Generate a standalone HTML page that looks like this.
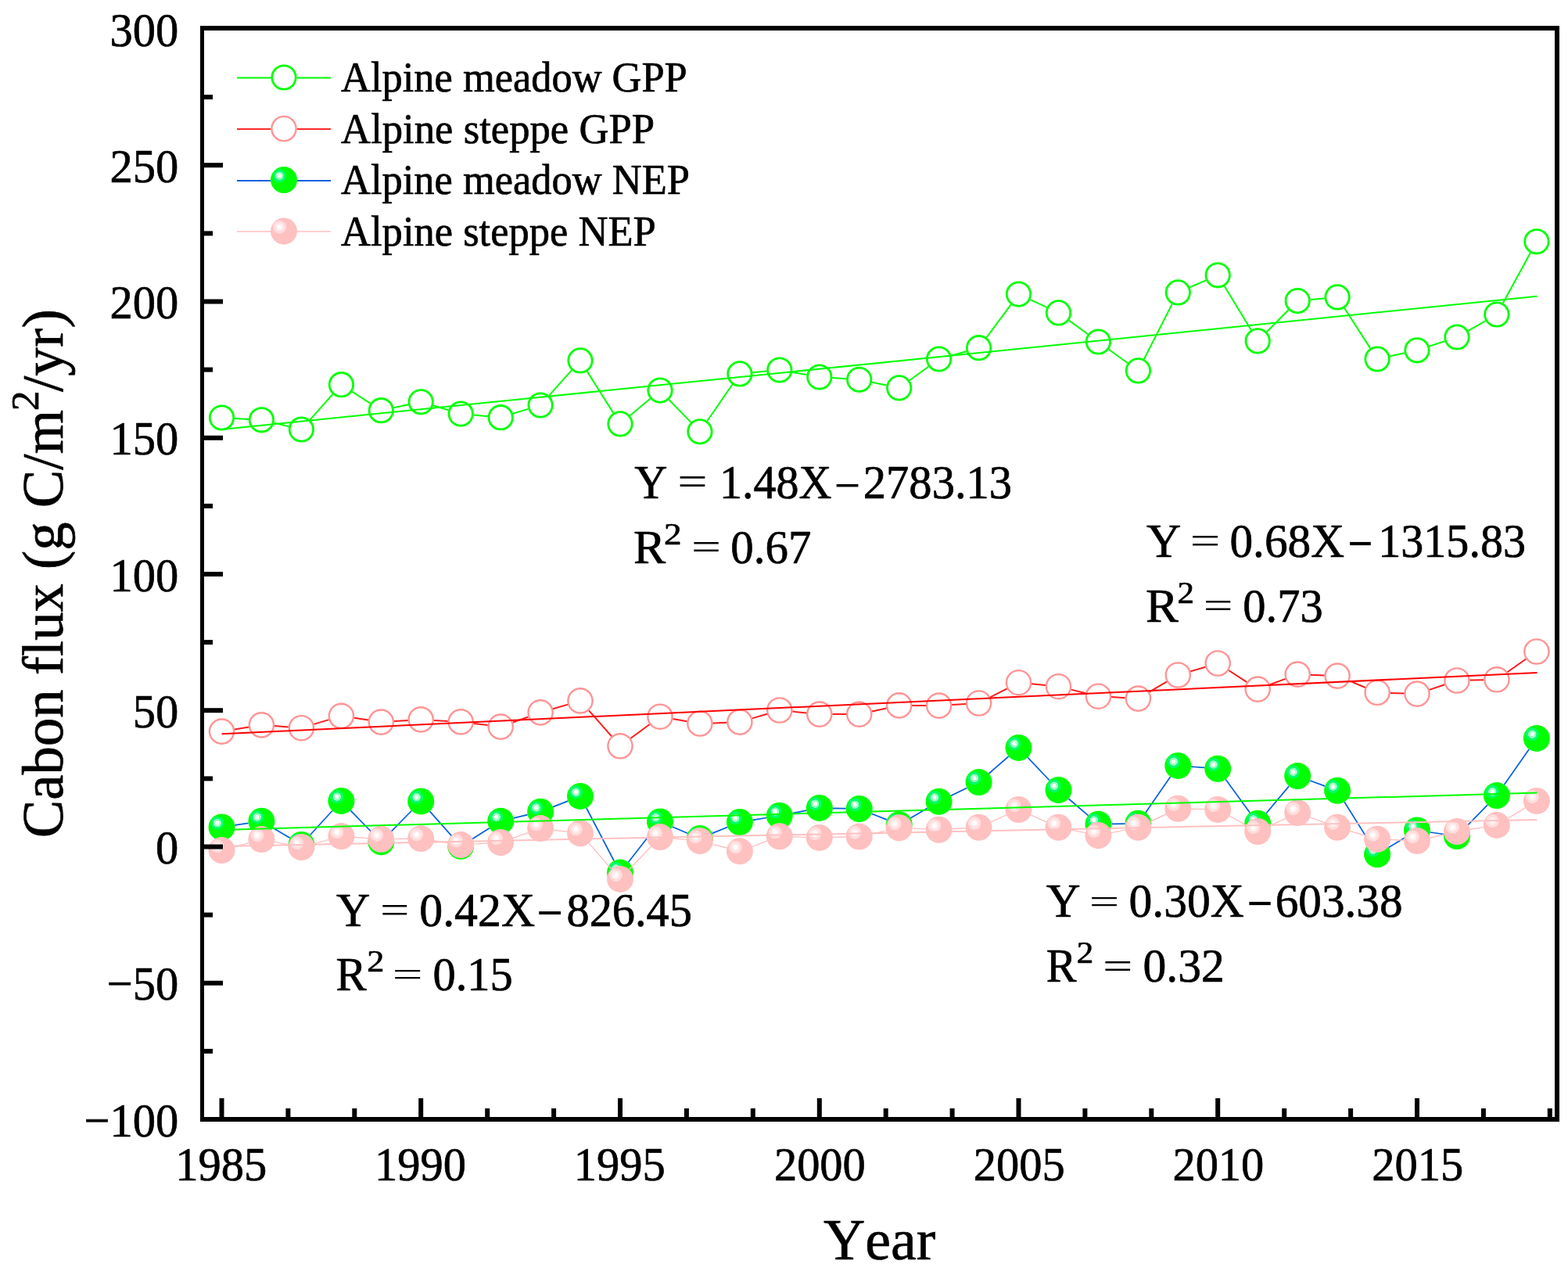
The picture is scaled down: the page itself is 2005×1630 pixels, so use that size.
<!DOCTYPE html>
<html><head><meta charset="utf-8"><title>Cabon flux</title>
<style>
html,body{margin:0;padding:0;background:#fff;}
svg{display:block;}
text{font-family:"Liberation Serif","Times New Roman",serif;fill:#000;font-kerning:none;font-feature-settings:"kern" 0;stroke:#000;stroke-width:0.7px;stroke-linejoin:round;}
.tl{font-size:58px;}
.lg{font-size:53px;}
.eq{font-size:58px;}
.ti{font-size:74px;}
</style></head><body>
<svg width="2005" height="1630" viewBox="0 0 2005 1630">
<defs>
<radialGradient id="sg" cx="0.335" cy="0.345" r="0.5" fx="0.335" fy="0.345">
<stop offset="0" stop-color="#ffffff"/><stop offset="0.14" stop-color="#ffffff"/>
<stop offset="0.165" stop-color="#9dffc0"/><stop offset="0.29" stop-color="#9dffc0"/>
<stop offset="0.315" stop-color="#00ff6a"/><stop offset="0.48" stop-color="#00ff6a"/>
<stop offset="0.505" stop-color="#00ff00"/><stop offset="1" stop-color="#00ff00"/>
</radialGradient>
<radialGradient id="sp" cx="0.335" cy="0.345" r="0.5" fx="0.335" fy="0.345">
<stop offset="0" stop-color="#ffffff"/><stop offset="0.14" stop-color="#ffffff"/>
<stop offset="0.165" stop-color="#ffeeee"/><stop offset="0.29" stop-color="#ffeeee"/>
<stop offset="0.315" stop-color="#ffdcdc"/><stop offset="0.48" stop-color="#ffdcdc"/>
<stop offset="0.505" stop-color="#ffc0c0"/><stop offset="1" stop-color="#ffc0c0"/>
</radialGradient>
</defs>
<rect width="2005" height="1630" fill="#fff"/>

<g>
<text font-size="60.50" transform="matrix(0.9670 0 0 1.0000 107.48 1452.60)">−100</text>
<text font-size="60.50" transform="matrix(0.9670 0 0 1.0000 136.73 1278.35)">−50</text>
<text font-size="60.50" transform="matrix(0.9670 0 0 1.0000 198.98 1104.10)">0</text>
<text font-size="60.50" transform="matrix(0.9670 0 0 1.0000 169.72 929.85)">50</text>
<text font-size="60.50" transform="matrix(0.9670 0 0 1.0000 140.47 755.60)">100</text>
<text font-size="60.50" transform="matrix(0.9670 0 0 1.0000 140.47 581.35)">150</text>
<text font-size="60.50" transform="matrix(0.9670 0 0 1.0000 140.47 407.10)">200</text>
<text font-size="60.50" transform="matrix(0.9670 0 0 1.0000 140.47 232.85)">250</text>
<text font-size="60.50" transform="matrix(0.9670 0 0 1.0000 140.47 58.60)">300</text>
<text font-size="60.50" transform="matrix(0.9670 0 0 1.0000 224.37 1509.30)">1985</text>
<text font-size="60.50" transform="matrix(0.9670 0 0 1.0000 479.09 1509.30)">1990</text>
<text font-size="60.50" transform="matrix(0.9670 0 0 1.0000 733.87 1509.30)">1995</text>
<text font-size="60.50" transform="matrix(0.9670 0 0 1.0000 989.88 1509.30)">2000</text>
<text font-size="60.50" transform="matrix(0.9670 0 0 1.0000 1244.65 1509.30)">2005</text>
<text font-size="60.50" transform="matrix(0.9670 0 0 1.0000 1499.38 1509.30)">2010</text>
<text font-size="60.50" transform="matrix(0.9670 0 0 1.0000 1754.15 1509.30)">2015</text>
</g>
<text font-size="73.30" transform="matrix(1.0061 0 0 1.0000 1053.07 1609.80)">Year</text>
<text font-size="74.60" transform="matrix(0 -0.9747 1.0000 0 80.00 1071.18)">Cabon flux (g C/m</text>
<text font-size="49.24" transform="matrix(0 -1.0488 1.0153 0 49.30 525.17)">2</text>
<text font-size="74.60" transform="matrix(0 -0.9825 1.0000 0 80.00 501.00)">/yr)</text>
<g fill="none" stroke-linecap="butt">
<path d="M300.0 534.9L318.0 535.9M350.5 540.6L369.4 545.2M396.4 536.7L425.4 504.0M450.2 500.7L473.5 515.7M503.4 521.2L522.1 517.3M554.1 518.5L573.4 524.3M605.6 530.5L623.7 532.2M655.9 528.8L675.3 522.9M702.1 505.7L731.1 473.2M750.8 474.9L784.2 527.9M805.6 531.3L831.3 509.7M855.4 511.0L883.4 539.9M904.3 538.2L936.5 491.5M962.3 476.3L980.4 474.6M1013.0 475.9L1031.5 479.1M1064.2 483.1L1082.2 484.2M1114.9 488.7L1133.5 492.5M1163.0 486.2L1187.2 468.7M1216.5 454.5L1235.7 449.2M1261.4 431.5L1292.7 389.3M1317.4 383.1L1338.5 392.9M1366.8 409.6L1391.1 427.3M1417.8 446.7L1442.0 464.2M1462.8 459.2L1498.8 388.6M1521.4 367.3L1542.1 358.4M1565.8 365.9L1599.7 421.8M1619.8 424.2L1647.5 396.3M1675.6 383.1L1693.7 381.4M1719.0 393.8L1752.1 445.1M1777.2 455.5L1795.9 451.3M1827.7 442.6L1847.3 436.2M1877.3 422.8L1899.6 410.2M1921.8 387.5L1956.9 323.3" stroke="#00ff00" stroke-width="2"/>
<circle fill="none" stroke="#00ff00" stroke-width="2.8" cx="283.5" cy="534.0" r="15.2"/><circle fill="none" stroke="#00ff00" stroke-width="2.8" cx="334.4" cy="536.8" r="15.2"/><circle fill="none" stroke="#00ff00" stroke-width="2.8" cx="385.4" cy="549.0" r="15.2"/><circle fill="none" stroke="#00ff00" stroke-width="2.8" cx="436.4" cy="491.7" r="15.2"/><circle fill="none" stroke="#00ff00" stroke-width="2.8" cx="487.3" cy="524.7" r="15.2"/><circle fill="none" stroke="#00ff00" stroke-width="2.8" cx="538.2" cy="513.8" r="15.2"/><circle fill="none" stroke="#00ff00" stroke-width="2.8" cx="589.2" cy="529.0" r="15.2"/><circle fill="none" stroke="#00ff00" stroke-width="2.8" cx="640.2" cy="533.7" r="15.2"/><circle fill="none" stroke="#00ff00" stroke-width="2.8" cx="691.1" cy="518.0" r="15.2"/><circle fill="none" stroke="#00ff00" stroke-width="2.8" cx="742.0" cy="460.9" r="15.2"/><circle fill="none" stroke="#00ff00" stroke-width="2.8" cx="793.0" cy="541.9" r="15.2"/><circle fill="none" stroke="#00ff00" stroke-width="2.8" cx="844.0" cy="499.1" r="15.2"/><circle fill="none" stroke="#00ff00" stroke-width="2.8" cx="894.9" cy="551.8" r="15.2"/><circle fill="none" stroke="#00ff00" stroke-width="2.8" cx="945.9" cy="477.9" r="15.2"/><circle fill="none" stroke="#00ff00" stroke-width="2.8" cx="996.8" cy="473.0" r="15.2"/><circle fill="none" stroke="#00ff00" stroke-width="2.8" cx="1047.8" cy="482.0" r="15.2"/><circle fill="none" stroke="#00ff00" stroke-width="2.8" cx="1098.7" cy="485.3" r="15.2"/><circle fill="none" stroke="#00ff00" stroke-width="2.8" cx="1149.7" cy="495.9" r="15.2"/><circle fill="none" stroke="#00ff00" stroke-width="2.8" cx="1200.6" cy="459.0" r="15.2"/><circle fill="none" stroke="#00ff00" stroke-width="2.8" cx="1251.6" cy="444.7" r="15.2"/><circle fill="none" stroke="#00ff00" stroke-width="2.8" cx="1302.5" cy="376.1" r="15.2"/><circle fill="none" stroke="#00ff00" stroke-width="2.8" cx="1353.5" cy="399.9" r="15.2"/><circle fill="none" stroke="#00ff00" stroke-width="2.8" cx="1404.4" cy="437.0" r="15.2"/><circle fill="none" stroke="#00ff00" stroke-width="2.8" cx="1455.4" cy="473.9" r="15.2"/><circle fill="none" stroke="#00ff00" stroke-width="2.8" cx="1506.3" cy="373.9" r="15.2"/><circle fill="none" stroke="#00ff00" stroke-width="2.8" cx="1557.2" cy="351.8" r="15.2"/><circle fill="none" stroke="#00ff00" stroke-width="2.8" cx="1608.2" cy="435.9" r="15.2"/><circle fill="none" stroke="#00ff00" stroke-width="2.8" cx="1659.2" cy="384.6" r="15.2"/><circle fill="none" stroke="#00ff00" stroke-width="2.8" cx="1710.1" cy="379.9" r="15.2"/><circle fill="none" stroke="#00ff00" stroke-width="2.8" cx="1761.1" cy="459.0" r="15.2"/><circle fill="none" stroke="#00ff00" stroke-width="2.8" cx="1812.0" cy="447.8" r="15.2"/><circle fill="none" stroke="#00ff00" stroke-width="2.8" cx="1863.0" cy="431.0" r="15.2"/><circle fill="none" stroke="#00ff00" stroke-width="2.8" cx="1913.9" cy="402.0" r="15.2"/><circle fill="none" stroke="#00ff00" stroke-width="2.8" cx="1964.9" cy="308.8" r="15.2"/>
<path d="M299.8 932.5L318.2 929.5M350.9 928.1L368.9 929.5M401.2 925.9L420.6 920.1M452.7 917.8L471.0 920.6M503.8 922.1L521.8 920.9M554.7 920.9L572.7 921.9M605.6 924.9L623.8 927.1M655.7 923.5L675.6 916.5M706.9 906.2L726.2 900.6M753.0 908.3L782.1 941.4M806.3 944.0L830.7 926.0M860.2 919.0L878.6 922.2M911.4 924.4L929.4 923.7M961.7 918.4L981.0 912.7M1013.2 909.6L1031.3 911.5M1064.2 913.1L1082.2 913.1M1114.8 909.6L1133.5 905.4M1166.1 902.0L1184.1 902.0M1217.1 901.1L1235.1 900.0M1266.2 891.4L1287.8 880.3M1318.9 874.3L1337.0 876.1M1369.5 881.6L1388.4 886.3M1420.9 891.1L1438.9 892.2M1469.6 884.7L1492.1 871.4M1522.1 858.3L1541.4 852.7M1571.1 857.0L1594.4 872.1M1623.7 875.3L1643.7 867.9M1675.6 862.7L1693.6 863.5M1725.3 870.4L1745.8 879.0M1777.5 885.9L1795.5 886.5M1827.6 881.9L1847.3 875.2M1879.4 869.6L1897.4 869.2M1927.4 859.3L1951.3 842.5" stroke="#ff1a1a" stroke-width="2"/>
<circle fill="none" stroke="#ff9494" stroke-width="2.4" cx="283.5" cy="935.1" r="15.6"/><circle fill="none" stroke="#ff9494" stroke-width="2.4" cx="334.4" cy="926.9" r="15.6"/><circle fill="none" stroke="#ff9494" stroke-width="2.4" cx="385.4" cy="930.7" r="15.6"/><circle fill="none" stroke="#ff9494" stroke-width="2.4" cx="436.4" cy="915.3" r="15.6"/><circle fill="none" stroke="#ff9494" stroke-width="2.4" cx="487.3" cy="923.1" r="15.6"/><circle fill="none" stroke="#ff9494" stroke-width="2.4" cx="538.2" cy="919.9" r="15.6"/><circle fill="none" stroke="#ff9494" stroke-width="2.4" cx="589.2" cy="922.9" r="15.6"/><circle fill="none" stroke="#ff9494" stroke-width="2.4" cx="640.2" cy="929.1" r="15.6"/><circle fill="none" stroke="#ff9494" stroke-width="2.4" cx="691.1" cy="910.9" r="15.6"/><circle fill="none" stroke="#ff9494" stroke-width="2.4" cx="742.0" cy="895.9" r="15.6"/><circle fill="none" stroke="#ff9494" stroke-width="2.4" cx="793.0" cy="953.8" r="15.6"/><circle fill="none" stroke="#ff9494" stroke-width="2.4" cx="844.0" cy="916.2" r="15.6"/><circle fill="none" stroke="#ff9494" stroke-width="2.4" cx="894.9" cy="925.0" r="15.6"/><circle fill="none" stroke="#ff9494" stroke-width="2.4" cx="945.9" cy="923.1" r="15.6"/><circle fill="none" stroke="#ff9494" stroke-width="2.4" cx="996.8" cy="908.0" r="15.6"/><circle fill="none" stroke="#ff9494" stroke-width="2.4" cx="1047.8" cy="913.1" r="15.6"/><circle fill="none" stroke="#ff9494" stroke-width="2.4" cx="1098.7" cy="913.1" r="15.6"/><circle fill="none" stroke="#ff9494" stroke-width="2.4" cx="1149.7" cy="901.9" r="15.6"/><circle fill="none" stroke="#ff9494" stroke-width="2.4" cx="1200.6" cy="902.1" r="15.6"/><circle fill="none" stroke="#ff9494" stroke-width="2.4" cx="1251.6" cy="899.0" r="15.6"/><circle fill="none" stroke="#ff9494" stroke-width="2.4" cx="1302.5" cy="872.7" r="15.6"/><circle fill="none" stroke="#ff9494" stroke-width="2.4" cx="1353.5" cy="877.7" r="15.6"/><circle fill="none" stroke="#ff9494" stroke-width="2.4" cx="1404.4" cy="890.2" r="15.6"/><circle fill="none" stroke="#ff9494" stroke-width="2.4" cx="1455.4" cy="893.1" r="15.6"/><circle fill="none" stroke="#ff9494" stroke-width="2.4" cx="1506.3" cy="863.0" r="15.6"/><circle fill="none" stroke="#ff9494" stroke-width="2.4" cx="1557.2" cy="848.0" r="15.6"/><circle fill="none" stroke="#ff9494" stroke-width="2.4" cx="1608.2" cy="881.1" r="15.6"/><circle fill="none" stroke="#ff9494" stroke-width="2.4" cx="1659.2" cy="862.1" r="15.6"/><circle fill="none" stroke="#ff9494" stroke-width="2.4" cx="1710.1" cy="864.1" r="15.6"/><circle fill="none" stroke="#ff9494" stroke-width="2.4" cx="1761.1" cy="885.3" r="15.6"/><circle fill="none" stroke="#ff9494" stroke-width="2.4" cx="1812.0" cy="887.1" r="15.6"/><circle fill="none" stroke="#ff9494" stroke-width="2.4" cx="1863.0" cy="870.0" r="15.6"/><circle fill="none" stroke="#ff9494" stroke-width="2.4" cx="1913.9" cy="868.8" r="15.6"/><circle fill="none" stroke="#ff9494" stroke-width="2.4" cx="1964.9" cy="833.0" r="15.6"/>
<path d="M300.3 1054.9L317.6 1052.3M349.1 1058.4L370.8 1071.3M396.8 1067.3L424.9 1036.5M448.2 1036.1L475.4 1064.0M499.2 1064.1L526.3 1036.5M549.5 1037.1L577.9 1069.1M603.6 1072.8L625.8 1058.8M656.7 1045.9L674.6 1041.7M706.9 1031.6L726.2 1024.1M749.9 1033.0L785.1 1100.5M803.5 1102.2L833.5 1063.8M859.6 1057.0L879.2 1065.3M910.6 1065.4L930.1 1057.5M962.6 1048.3L980.0 1045.5M1013.5 1039.6L1031.1 1036.1M1064.7 1033.3L1081.7 1033.6M1114.5 1040.3L1133.8 1047.9M1164.4 1045.7L1185.9 1033.2M1215.9 1017.3L1236.2 1007.5M1264.4 989.0L1289.7 967.0M1314.2 968.3L1341.8 997.5M1366.3 1021.0L1391.5 1042.7M1421.4 1053.4L1438.4 1053.1M1465.0 1038.7L1496.6 992.9M1523.3 980.2L1540.3 981.4M1567.3 996.4L1598.2 1039.0M1619.1 1039.7L1648.2 1005.1M1675.1 998.0L1694.1 1004.9M1719.1 1025.2L1752.0 1077.9M1775.6 1083.5L1797.5 1070.3M1828.8 1064.0L1846.1 1066.5M1874.9 1056.9L1902.0 1029.2M1923.6 1003.1L1955.1 957.9" stroke="#0060e0" stroke-width="1.7"/>
<circle fill="url(#sg)" cx="283.5" cy="1057.4" r="17"/><circle fill="url(#sg)" cx="334.4" cy="1049.8" r="17"/><circle fill="url(#sg)" cx="385.4" cy="1079.9" r="17"/><circle fill="url(#sg)" cx="436.4" cy="1023.9" r="17"/><circle fill="url(#sg)" cx="487.3" cy="1076.2" r="17"/><circle fill="url(#sg)" cx="538.2" cy="1024.4" r="17"/><circle fill="url(#sg)" cx="589.2" cy="1081.8" r="17"/><circle fill="url(#sg)" cx="640.2" cy="1049.8" r="17"/><circle fill="url(#sg)" cx="691.1" cy="1037.8" r="17"/><circle fill="url(#sg)" cx="742.0" cy="1017.9" r="17"/><circle fill="url(#sg)" cx="793.0" cy="1115.6" r="17"/><circle fill="url(#sg)" cx="844.0" cy="1050.4" r="17"/><circle fill="url(#sg)" cx="894.9" cy="1071.9" r="17"/><circle fill="url(#sg)" cx="945.9" cy="1051.0" r="17"/><circle fill="url(#sg)" cx="996.8" cy="1042.8" r="17"/><circle fill="url(#sg)" cx="1047.8" cy="1032.9" r="17"/><circle fill="url(#sg)" cx="1098.7" cy="1034.0" r="17"/><circle fill="url(#sg)" cx="1149.7" cy="1054.2" r="17"/><circle fill="url(#sg)" cx="1200.6" cy="1024.7" r="17"/><circle fill="url(#sg)" cx="1251.6" cy="1000.1" r="17"/><circle fill="url(#sg)" cx="1302.5" cy="955.9" r="17"/><circle fill="url(#sg)" cx="1353.5" cy="1009.9" r="17"/><circle fill="url(#sg)" cx="1404.4" cy="1053.8" r="17"/><circle fill="url(#sg)" cx="1455.4" cy="1052.7" r="17"/><circle fill="url(#sg)" cx="1506.3" cy="978.9" r="17"/><circle fill="url(#sg)" cx="1557.2" cy="982.7" r="17"/><circle fill="url(#sg)" cx="1608.2" cy="1052.7" r="17"/><circle fill="url(#sg)" cx="1659.2" cy="992.1" r="17"/><circle fill="url(#sg)" cx="1710.1" cy="1010.8" r="17"/><circle fill="url(#sg)" cx="1761.1" cy="1092.3" r="17"/><circle fill="url(#sg)" cx="1812.0" cy="1061.5" r="17"/><circle fill="url(#sg)" cx="1863.0" cy="1069.0" r="17"/><circle fill="url(#sg)" cx="1913.9" cy="1017.1" r="17"/><circle fill="url(#sg)" cx="1964.9" cy="943.9" r="17"/>
<path d="M299.9 1082.6L318.1 1077.6M351.1 1076.4L368.7 1079.8M401.8 1078.6L420.0 1073.6M453.3 1070.3L470.3 1071.6M504.3 1072.6L521.3 1072.3M555.0 1074.7L572.4 1077.5M606.2 1079.1L623.2 1078.0M656.2 1071.4L675.1 1064.7M708.0 1061.2L725.2 1063.2M753.2 1078.1L781.8 1111.1M804.7 1111.6L832.3 1082.4M860.9 1071.8L878.0 1073.4M911.4 1079.4L929.4 1084.0M961.8 1082.4L980.9 1075.2M1013.8 1069.8L1030.8 1070.4M1064.7 1070.5L1081.7 1070.0M1115.3 1065.9L1133.1 1061.9M1166.6 1059.1L1183.6 1059.9M1217.6 1059.8L1234.6 1058.7M1267.1 1050.8L1287.0 1041.9M1318.0 1041.9L1337.9 1050.8M1370.1 1061.1L1387.7 1064.6M1421.1 1064.6L1438.7 1061.1M1470.7 1050.5L1490.9 1041.0M1523.3 1034.2L1540.3 1034.5M1572.1 1043.1L1593.3 1054.8M1623.6 1055.8L1643.8 1046.3M1675.1 1044.9L1694.1 1051.9M1726.4 1062.5L1744.7 1067.9M1778.0 1073.5L1795.0 1074.3M1828.5 1071.2L1846.4 1066.9M1879.7 1060.3L1897.1 1057.6M1928.4 1046.1L1950.3 1032.7" stroke="#ffc0c0" stroke-width="1.4"/>
<circle fill="url(#sp)" cx="283.5" cy="1087.1" r="17"/><circle fill="url(#sp)" cx="334.4" cy="1073.1" r="17"/><circle fill="url(#sp)" cx="385.4" cy="1083.1" r="17"/><circle fill="url(#sp)" cx="436.4" cy="1069.1" r="17"/><circle fill="url(#sp)" cx="487.3" cy="1072.8" r="17"/><circle fill="url(#sp)" cx="538.2" cy="1072.1" r="17"/><circle fill="url(#sp)" cx="589.2" cy="1080.1" r="17"/><circle fill="url(#sp)" cx="640.2" cy="1077.0" r="17"/><circle fill="url(#sp)" cx="691.1" cy="1059.1" r="17"/><circle fill="url(#sp)" cx="742.0" cy="1065.3" r="17"/><circle fill="url(#sp)" cx="793.0" cy="1123.9" r="17"/><circle fill="url(#sp)" cx="844.0" cy="1070.1" r="17"/><circle fill="url(#sp)" cx="894.9" cy="1075.1" r="17"/><circle fill="url(#sp)" cx="945.9" cy="1088.3" r="17"/><circle fill="url(#sp)" cx="996.8" cy="1069.3" r="17"/><circle fill="url(#sp)" cx="1047.8" cy="1070.9" r="17"/><circle fill="url(#sp)" cx="1098.7" cy="1069.6" r="17"/><circle fill="url(#sp)" cx="1149.7" cy="1058.2" r="17"/><circle fill="url(#sp)" cx="1200.6" cy="1060.8" r="17"/><circle fill="url(#sp)" cx="1251.6" cy="1057.7" r="17"/><circle fill="url(#sp)" cx="1302.5" cy="1035.0" r="17"/><circle fill="url(#sp)" cx="1353.5" cy="1057.7" r="17"/><circle fill="url(#sp)" cx="1404.4" cy="1068.0" r="17"/><circle fill="url(#sp)" cx="1455.4" cy="1057.7" r="17"/><circle fill="url(#sp)" cx="1506.3" cy="1033.8" r="17"/><circle fill="url(#sp)" cx="1557.2" cy="1034.9" r="17"/><circle fill="url(#sp)" cx="1608.2" cy="1063.0" r="17"/><circle fill="url(#sp)" cx="1659.2" cy="1039.1" r="17"/><circle fill="url(#sp)" cx="1710.1" cy="1057.7" r="17"/><circle fill="url(#sp)" cx="1761.1" cy="1072.7" r="17"/><circle fill="url(#sp)" cx="1812.0" cy="1075.1" r="17"/><circle fill="url(#sp)" cx="1863.0" cy="1063.0" r="17"/><circle fill="url(#sp)" cx="1913.9" cy="1054.9" r="17"/><circle fill="url(#sp)" cx="1964.9" cy="1023.9" r="17"/>
<path d="M283.5 549.0L1965.5 378.8" stroke="#00ff00" stroke-width="2"/>
<path d="M283.5 938.2L1965.5 860.0" stroke="#ff0000" stroke-width="2"/>
<path d="M283.5 1061.0L1965.5 1013.6" stroke="#00ff00" stroke-width="2"/>
<path d="M283.5 1082.0L1965.5 1047.9" stroke="#ffc0c0" stroke-width="2"/>
</g>
<g fill="#000">
<rect x="256" y="33" width="5" height="1401"/>
<rect x="1988" y="33" width="6" height="1401"/>
<rect x="256" y="33" width="1738" height="6"/>
<rect x="256" y="1428" width="1738" height="6"/>
<rect x="261" y="1340.9" width="11" height="6"/>
<rect x="261" y="1253.8" width="24" height="6"/>
<rect x="261" y="1166.6" width="11" height="6"/>
<rect x="261" y="1079.5" width="24" height="6"/>
<rect x="261" y="992.4" width="11" height="6"/>
<rect x="261" y="905.2" width="24" height="6"/>
<rect x="261" y="818.1" width="11" height="6"/>
<rect x="261" y="731.0" width="24" height="6"/>
<rect x="261" y="643.9" width="11" height="6"/>
<rect x="261" y="556.8" width="24" height="6"/>
<rect x="261" y="469.6" width="11" height="6"/>
<rect x="261" y="382.5" width="24" height="6"/>
<rect x="261" y="295.4" width="11" height="6"/>
<rect x="261" y="208.2" width="24" height="6"/>
<rect x="261" y="121.1" width="11" height="6"/>
<rect x="280.5" y="1404" width="6" height="24"/>
<rect x="365.4" y="1417" width="6" height="11"/>
<rect x="450.3" y="1417" width="6" height="11"/>
<rect x="535.2" y="1404" width="6" height="24"/>
<rect x="620.2" y="1417" width="6" height="11"/>
<rect x="705.1" y="1417" width="6" height="11"/>
<rect x="790.0" y="1404" width="6" height="24"/>
<rect x="874.9" y="1417" width="6" height="11"/>
<rect x="959.8" y="1417" width="6" height="11"/>
<rect x="1044.8" y="1404" width="6" height="24"/>
<rect x="1129.7" y="1417" width="6" height="11"/>
<rect x="1214.6" y="1417" width="6" height="11"/>
<rect x="1299.5" y="1404" width="6" height="24"/>
<rect x="1384.4" y="1417" width="6" height="11"/>
<rect x="1469.3" y="1417" width="6" height="11"/>
<rect x="1554.2" y="1404" width="6" height="24"/>
<rect x="1639.2" y="1417" width="6" height="11"/>
<rect x="1724.1" y="1417" width="6" height="11"/>
<rect x="1809.0" y="1404" width="6" height="24"/>
<rect x="1893.9" y="1417" width="6" height="11"/>
<rect x="1978.8" y="1417" width="6" height="11"/>
</g>
<g fill="none">
<path d="M303 99.5H346.5M379.5 99.5H423" stroke="#00ff00" stroke-width="2"/>
<circle fill="none" stroke="#00ff00" stroke-width="2.8" cx="363" cy="99.0" r="15.2"/>
<path d="M303 165.0H346.5M379.5 165.0H423" stroke="#ff2a2a" stroke-width="2"/>
<circle fill="none" stroke="#ff9494" stroke-width="2.4" cx="363" cy="164.5" r="15.6"/>
<path d="M303 231.0H346M380 231.0H423" stroke="#0060e0" stroke-width="2"/>
<circle fill="url(#sg)" cx="363" cy="230.0" r="17"/>
<path d="M303 296.0H346M380 296.0H423" stroke="#ffc0c0" stroke-width="1.5"/>
<circle fill="url(#sp)" cx="363" cy="295.5" r="17"/>
</g>
<text font-size="54.20" transform="matrix(0.9676 0 0 1.0000 436.09 117.00)">Alpine meadow GPP</text>
<text font-size="54.20" transform="matrix(0.9722 0 0 1.0000 436.09 183.00)">Alpine steppe GPP</text>
<text font-size="54.20" transform="matrix(0.9679 0 0 1.0000 436.09 248.00)">Alpine meadow NEP</text>
<text font-size="54.20" transform="matrix(0.9695 0 0 1.0000 436.09 313.70)">Alpine steppe NEP</text>
<text font-size="60.40" transform="matrix(0.9660 0 0 1.0000 811.34 637.20)">Y</text><text font-size="60.40" transform="matrix(1.1279 0 0 0.8742 866.21 633.43)" style="stroke:none">=</text><text font-size="60.40" transform="matrix(0.9593 0 0 1.0000 920.11 637.20)">1.48X</text><text font-size="60.40" transform="matrix(0.9891 0 0 1.1635 1066.82 644.08)" style="stroke:none">−</text><text font-size="60.40" transform="matrix(0.9692 0 0 1.0000 1103.83 637.20)">2783.13</text>
<text font-size="60.40" transform="matrix(1.0219 0 0 1.0000 810.02 719.90)">R</text><text font-size="39.86" transform="matrix(1.1326 0 0 1.0305 849.12 696.20)">2</text><text font-size="60.40" transform="matrix(1.1172 0 0 0.7881 883.94 714.75)" style="stroke:none">=</text><text font-size="60.40" transform="matrix(0.9758 0 0 1.0000 934.26 719.90)">0.67</text>
<text font-size="60.40" transform="matrix(1.0167 0 0 1.0000 1466.11 711.70)">Y</text><text font-size="60.40" transform="matrix(1.1350 0 0 0.8278 1521.69 707.55)" style="stroke:none">=</text><text font-size="60.40" transform="matrix(0.9827 0 0 1.0000 1572.44 711.70)">0.68X</text><text font-size="60.40" transform="matrix(0.9535 0 0 1.3962 1723.33 723.10)" style="stroke:none">−</text><text font-size="60.40" transform="matrix(0.9622 0 0 1.0000 1762.19 711.70)">1315.83</text>
<text font-size="60.40" transform="matrix(1.0375 0 0 1.0000 1464.99 794.60)">R</text><text font-size="39.86" transform="matrix(1.0763 0 0 1.0192 1505.51 770.90)">2</text><text font-size="60.40" transform="matrix(1.1101 0 0 0.8212 1538.66 790.37)" style="stroke:none">=</text><text font-size="60.40" transform="matrix(0.9689 0 0 1.0000 1589.27 794.60)">0.73</text>
<text font-size="60.40" transform="matrix(0.9926 0 0 1.0000 429.93 1183.90)">Y</text><text font-size="60.40" transform="matrix(1.0994 0 0 0.8543 485.89 1179.98)" style="stroke:none">=</text><text font-size="60.40" transform="matrix(0.9909 0 0 1.0000 536.22 1183.90)">0.42X</text><text font-size="60.40" transform="matrix(0.9891 0 0 1.3297 686.32 1193.57)" style="stroke:none">−</text><text font-size="60.40" transform="matrix(0.9657 0 0 1.0000 724.48 1183.90)">826.45</text>
<text font-size="60.40" transform="matrix(0.9725 0 0 1.0000 429.51 1265.90)">R</text><text font-size="39.86" transform="matrix(1.1076 0 0 1.0229 469.16 1242.20)">2</text><text font-size="60.40" transform="matrix(1.1385 0 0 0.7285 501.78 1260.01)" style="stroke:none">=</text><text font-size="60.40" transform="matrix(0.9669 0 0 1.0000 553.48 1265.90)">0.15</text>
<text font-size="60.40" transform="matrix(1.0047 0 0 1.0000 1337.82 1171.70)">Y</text><text font-size="60.40" transform="matrix(1.1314 0 0 0.7483 1392.70 1166.56)" style="stroke:none">=</text><text font-size="60.40" transform="matrix(0.9868 0 0 1.0000 1443.43 1171.70)">0.30X</text><text font-size="60.40" transform="matrix(0.9749 0 0 1.3962 1594.47 1183.10)" style="stroke:none">−</text><text font-size="60.40" transform="matrix(0.9801 0 0 1.0000 1630.76 1171.70)">603.38</text>
<text font-size="60.40" transform="matrix(0.9621 0 0 1.0000 1337.73 1254.90)">R</text><text font-size="39.86" transform="matrix(1.0763 0 0 1.0192 1376.71 1230.90)">2</text><text font-size="60.40" transform="matrix(1.1279 0 0 0.8013 1409.91 1250.52)" style="stroke:none">=</text><text font-size="60.40" transform="matrix(0.9873 0 0 1.0000 1461.43 1254.90)">0.32</text>
</svg></body></html>
